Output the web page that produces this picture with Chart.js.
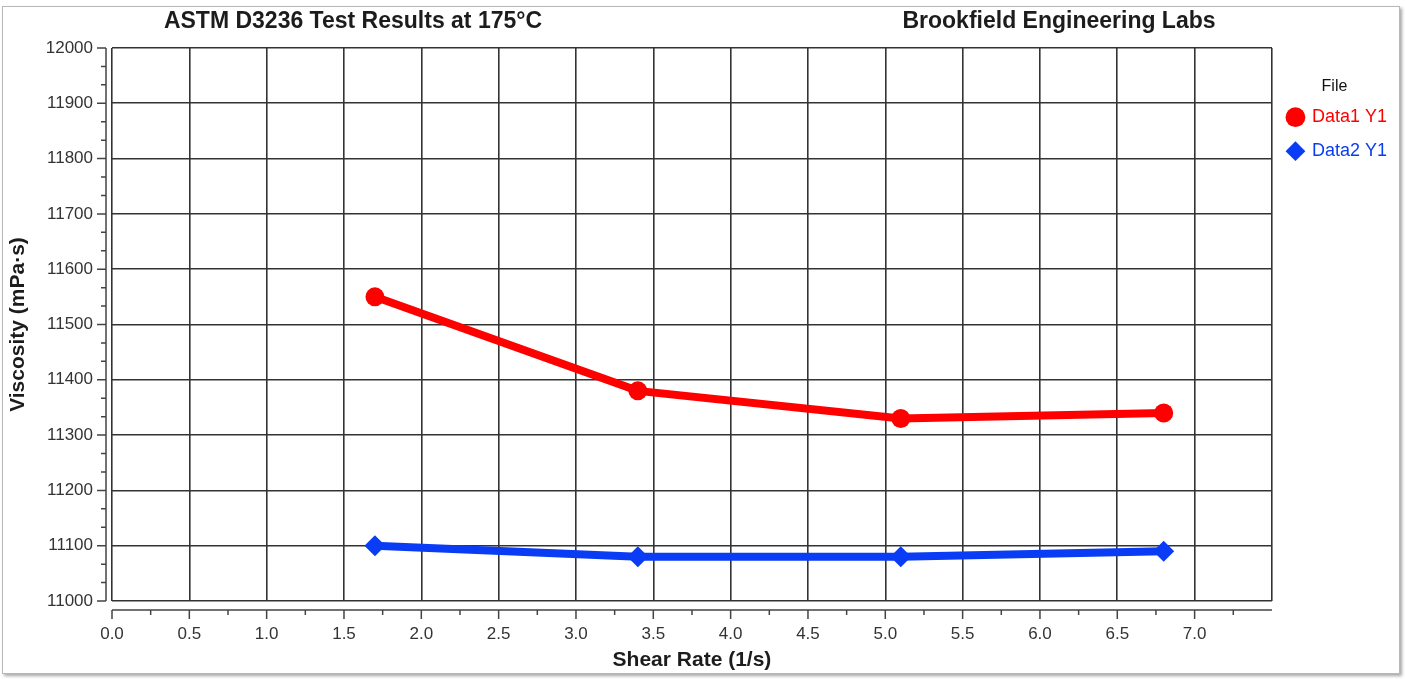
<!DOCTYPE html>
<html>
<head>
<meta charset="utf-8">
<title>Viscosity vs Shear Rate</title>
<script src="https://cdn.jsdelivr.net/npm/chart.js@4.4.1/dist/chart.umd.min.js"></script>
<style>
  body { margin: 0; background: #fff; }
  #frame {
    position: absolute; left: 2px; top: 6px; width: 1396px; height: 666px;
    border: 1px solid #b8b8b8; box-shadow: 2px 2px 3px rgba(0, 0, 0, 0.35);
  }
  #wrap { position: absolute; left: 0; top: 0; width: 1405px; height: 679px; }
</style>
</head>
<body>
<div id="frame"></div>
<div id="wrap"><canvas id="viscosityChart" width="1405" height="679"></canvas></div>
<script>
// values
const shearRate = [1.7, 3.4, 5.1, 6.8];
const data1Y1 = [11550, 11380, 11330, 11340];
const data2Y1 = [11100, 11080, 11080, 11090];
const seriesNames = ["Data1 Y1", "Data2 Y1"];
const xTickLabels = ["0.0", "0.5", "1.0", "1.5", "2.0", "2.5", "3.0", "3.5", "4.0", "4.5", "5.0", "5.5", "6.0", "6.5", "7.0"];
const yTickLabels = ["11000", "11100", "11200", "11300", "11400", "11500", "11600", "11700", "11800", "11900", "12000"];
const titleLeft = "ASTM D3236 Test Results at 175°C";
const titleRight = "Brookfield Engineering Labs";

const FONT = "'Liberation Sans', Arial, sans-serif";
const gridColor = "#333";

// axis lines sit a few px away from the plot frame, with major + minor ticks
const offsetAxes = {
  id: "offsetAxes",
  afterDraw(chart) {
    const { ctx, chartArea: area, scales: { x, y } } = chart;
    ctx.save();
    ctx.strokeStyle = "#444";
    ctx.lineWidth = 1.5;
    ctx.beginPath();

    const ay = area.bottom + 9;
    ctx.moveTo(area.left, ay);
    ctx.lineTo(area.right, ay);
    x.ticks.forEach((t, i) => {
      if (xTickLabels[i] !== undefined) {
        const px = x.getPixelForValue(t.value);
        ctx.moveTo(px, ay);
        ctx.lineTo(px, ay + 9);
      }
      const next = x.ticks[i + 1];
      if (next) {
        const mx = x.getPixelForValue((t.value + next.value) / 2);
        ctx.moveTo(mx, ay);
        ctx.lineTo(mx, ay + 5);
      }
    });

    const ax = area.left - 6;
    ctx.moveTo(ax, area.top);
    ctx.lineTo(ax, area.bottom);
    y.ticks.forEach((t, i) => {
      const py = y.getPixelForValue(t.value);
      ctx.moveTo(ax, py);
      ctx.lineTo(ax - 9, py);
      const next = y.ticks[i + 1];
      if (next) {
        for (let k = 1; k < 3; k++) {
          const my = y.getPixelForValue(t.value + (next.value - t.value) * k / 3);
          ctx.moveTo(ax, my);
          ctx.lineTo(ax - 5, my);
        }
      }
    });
    ctx.stroke();
    ctx.restore();
  }
};

// the two header texts
const headerText = {
  id: "headerText",
  afterDraw(chart) {
    const ctx = chart.ctx;
    ctx.save();
    ctx.font = "bold 23px " + FONT;
    ctx.fillStyle = "#1c1c1c";
    ctx.textAlign = "center";
    ctx.textBaseline = "middle";
    ctx.fillText(titleLeft, 353, 22);
    ctx.fillText(titleRight, 1059, 22);
    ctx.restore();
  }
};

const ctx = document.getElementById("viscosityChart").getContext("2d");

new Chart(ctx, {
  type: "line",
  data: {
    datasets: [{
      label: seriesNames[0],
      data: shearRate.map((v, i) => ({ x: v, y: data1Y1[i] })),
      borderColor: "#ff0000",
      backgroundColor: "#ff0000",
      borderWidth: 8,
      pointStyle: "circle",
      pointRadius: 9.5,
      pointBorderWidth: 0,
      tension: 0
    }, {
      label: seriesNames[1],
      data: shearRate.map((v, i) => ({ x: v, y: data2Y1[i] })),
      borderColor: "#0a3cf5",
      backgroundColor: "#0a3cf5",
      borderWidth: 8,
      pointStyle: "rectRot",
      pointRadius: 10.5,
      pointBorderWidth: 0,
      tension: 0
    }]
  },
  options: {
    responsive: false,
    animation: false,
    layout: { padding: { top: 48, right: 8, bottom: 0, left: 0 } },
    scales: {
      x: {
        type: "linear",
        min: 0,
        max: 7.5,
        afterFit: scale => { scale.height = 78; },
        border: { display: false },
        grid: { color: gridColor, lineWidth: 1.6, drawTicks: false },
        ticks: {
          stepSize: 0.5,
          padding: 23,
          color: "#333",
          font: { size: 17, family: FONT },
          maxRotation: 0,
          autoSkip: false,
          callback: (v, i) => xTickLabels[i] ?? ""
        },
        title: {
          display: true,
          text: "Shear Rate (1/s)",
          color: "#1c1c1c",
          font: { size: 21, weight: "bold", family: FONT },
          padding: { top: 0, bottom: 6 }
        }
      },
      y: {
        min: 11000,
        max: 12000,
        afterFit: scale => { scale.width = 112; },
        border: { display: false },
        grid: { color: gridColor, lineWidth: 1.6, drawTicks: false },
        ticks: {
          stepSize: 100,
          padding: 19,
          color: "#333",
          font: { size: 17, family: FONT },
          callback: (v, i) => yTickLabels[i]
        },
        title: {
          display: true,
          text: "Viscosity (mPa·s)",
          color: "#1c1c1c",
          font: { size: 21, weight: "bold", family: FONT },
          padding: { top: 6, bottom: 0 }
        }
      }
    },
    plugins: {
      legend: {
        position: "right",
        align: "start",
        title: {
          display: true,
          text: "File",
          color: "#111",
          font: { size: 16, family: FONT },
          padding: { top: 31, bottom: -6 }
        },
        labels: {
          usePointStyle: true,
          boxWidth: 15,
          boxHeight: 14,
          padding: 16,
          font: { size: 18, family: FONT },
          generateLabels(chart) {
            return Chart.defaults.plugins.legend.labels.generateLabels(chart).map(item => {
              const ds = chart.data.datasets[item.datasetIndex];
              return { ...item, fontColor: ds.borderColor, lineWidth: 0 };
            });
          }
        }
      },
      tooltip: { enabled: false }
    }
  },
  plugins: [offsetAxes, headerText]
});
</script>
</body>
</html>
